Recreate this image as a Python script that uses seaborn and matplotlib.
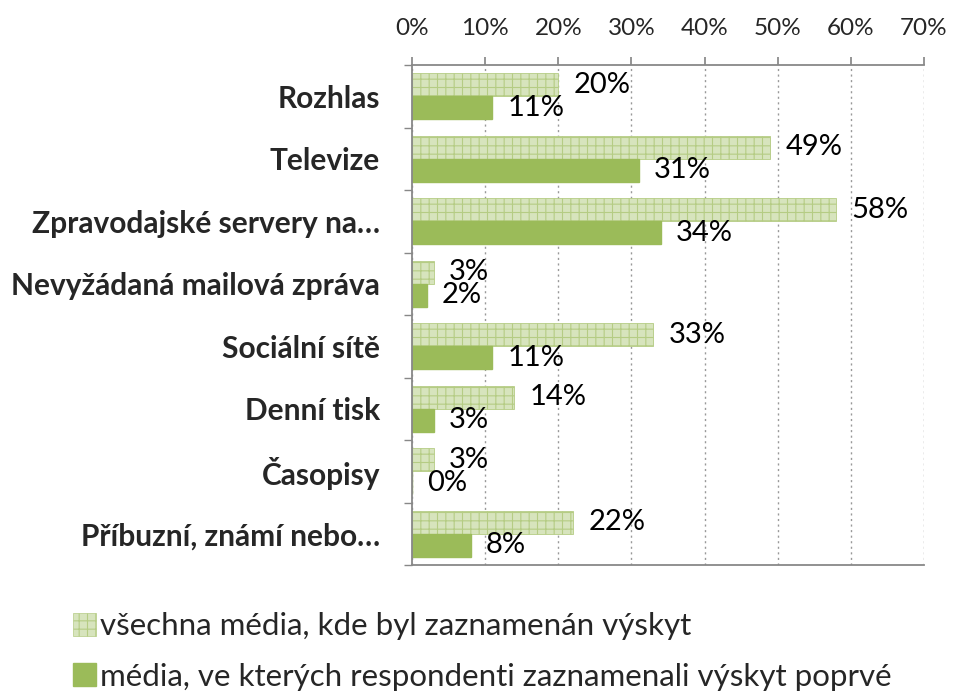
import matplotlib
matplotlib.use("Agg")
import matplotlib.pyplot as plt
import seaborn as sns
import pandas as pd
import numpy as np
from matplotlib.ticker import FixedLocator, PercentFormatter
from matplotlib.patches import Patch

categories = ["Rozhlas", "Televize", "Zpravodajské servery na…", "Nevyžádaná mailová zpráva",
              "Sociální sítě", "Denní tisk", "Časopisy", "Příbuzní, známí nebo…"]
series_names = ["všechna média, kde byl zaznamenán výskyt",
                "média, ve kterých respondenti zaznamenali výskyt poprvé"]
all_media = [20, 49, 58, 3, 33, 14, 3, 22]
first_media = [11, 31, 34, 2, 11, 3, 0, 8]
x_ticks = [0, 10, 20, 30, 40, 50, 60, 70]

sns.set_theme(style="white")
plt.rcParams["font.family"] = ["Lato", "DejaVu Sans"]
plt.rcParams["hatch.linewidth"] = 0.8

df = pd.DataFrame({
    "cat": categories * 2,
    "val": all_media + first_media,
    "series": [series_names[0]] * len(categories) + [series_names[1]] * len(categories),
})

light = "#d7e4bd"
hatch_col = "#b5cc84"
solid = "#9bbb59"

fig = plt.figure(figsize=(9.54, 6.94), dpi=100)
ax = fig.add_axes([412 / 954, 1 - 565 / 694, 512 / 954, 500 / 694])
sns.barplot(data=df, x="val", y="cat", hue="series", palette=[light, solid],
            orient="h", width=0.74, ax=ax, legend=False, saturation=1)

n = len(categories)
for i, cont in enumerate(ax.containers):
    for p in cont:
        if i == 0:
            p.set_facecolor(light)
            p.set_edgecolor(hatch_col)
            p.set_hatch("++")
            p.set_linewidth(0.6)
        else:
            p.set_facecolor(solid)
            p.set_edgecolor(solid)
    ax.bar_label(cont, labels=[f"{int(v)}%" for v in cont.datavalues],
                 padding=11, fontsize=21, color="black")

ax.set_xlim(0, 70)
ax.set_ylim(n - 0.5, -0.5)
ax.xaxis.set_major_locator(FixedLocator(x_ticks))
ax.xaxis.set_major_formatter(PercentFormatter(decimals=0))
ax.xaxis.tick_top()
ax.tick_params(axis="x", which="major", top=True, bottom=False, labeltop=True, labelbottom=False,
               labelsize=17.5, length=6, color="#888888", direction="out", pad=13)
ax.grid(axis="x", linestyle=(0, (1.5, 2.5)), color="#999999", linewidth=1)
ax.set_axisbelow(True)

ax.yaxis.set_minor_locator(FixedLocator(np.arange(-0.5, n, 1.0)))
ax.tick_params(axis="y", which="major", left=False, labelsize=21.5, pad=17)
ax.tick_params(axis="y", which="minor", left=True, length=6, color="#888888", direction="out")
for lab in ax.get_yticklabels():
    lab.set_fontweight("bold")

ax.set_xlabel("")
ax.set_ylabel("")
for s in ["top", "left", "bottom"]:
    ax.spines[s].set_color("#888888")
    ax.spines[s].set_linewidth(1.3)
ax.spines["right"].set_visible(False)

handles = [Patch(facecolor=light, edgecolor=hatch_col, hatch="++", linewidth=0.5),
           Patch(facecolor=solid, edgecolor=solid)]
fig.legend(handles, series_names, loc="upper left", bbox_to_anchor=(0.063, 0.136),
           frameon=False, fontsize=22.5, handlelength=0.75, handleheight=0.75,
           handletextpad=0.12, labelspacing=0.72, borderaxespad=0)

fig.savefig("out.png", dpi=100)
